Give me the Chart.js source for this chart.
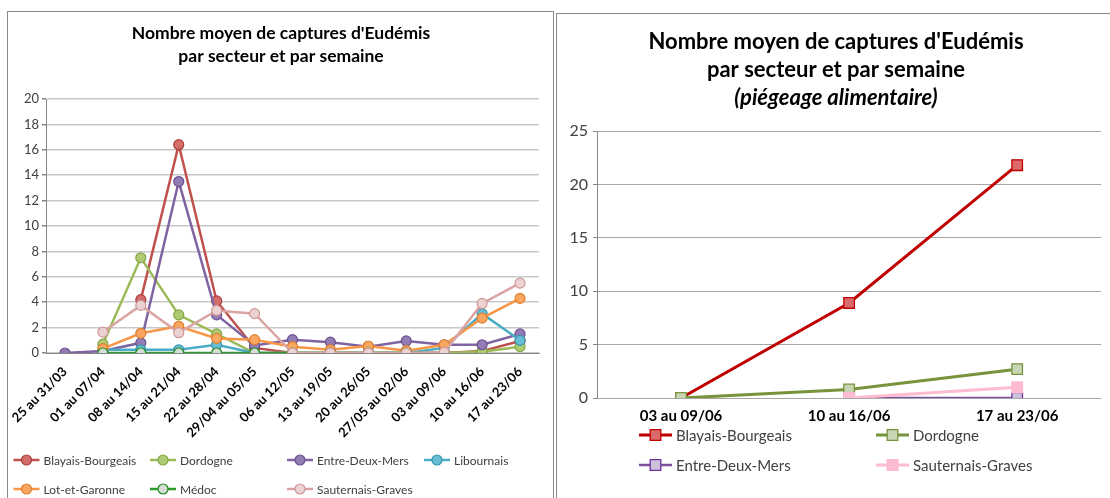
<!DOCTYPE html>
<html>
<head>
<meta charset="utf-8">
<script src="https://cdn.jsdelivr.net/npm/chart.js@4.4.1/dist/chart.umd.min.js"></script>
<style>
body { margin: 0; background: #fff; width: 1110px; height: 498px; overflow: hidden; position: relative; }
#p1 { position: absolute; left: 7px; top: 11px; width: 545px; height: 500px; border: 1px solid #8a8a8a; }
#p2 { position: absolute; left: 556px; top: 13px; width: 560px; height: 500px; border-top: 1px solid #8a8a8a; border-left: 1px solid #8a8a8a; }
canvas { position: absolute; left: 0; top: 0; }
</style>
</head>
<body>
<div id="p1"><canvas id="c1" width="545" height="486"></canvas></div>
<div id="p2"><canvas id="c2" width="553" height="484"></canvas></div>
<script>
// semaines, piégeage sexuel (graphique de gauche)
var weeks = ["25 au 31/03", "01 au 07/04", "08 au 14/04", "15 au 21/04", "22 au 28/04", "29/04 au 05/05",
  "06 au 12/05", "13 au 19/05", "20 au 26/05", "27/05 au 02/06", "03 au 09/06", "10 au 16/06", "17 au 23/06"];
var blayais = [null, null, 4.2, 16.4, 4.1, 0.4, 0, 0, 0, 0, 0, 0.15, 0.95];
var dordogne = [null, 0.7, 7.5, 3.0, 1.5, 0, 0, 0, 0, 0, 0, 0.1, 0.5];
var entreDeuxMers = [0, 0.15, 0.8, 13.5, 3.0, 0.6, 1.05, 0.85, 0.5, 0.95, 0.65, 0.65, 1.5];
var libournais = [null, 0.25, 0.25, 0.25, 0.65, 0, 0, 0, 0, 0, 0.4, 3.1, 1.0];
var lotEtGaronne = [null, 0.35, 1.55, 2.1, 1.15, 1.05, 0.5, 0.25, 0.55, 0.18, 0.65, 2.75, 4.3];
var medoc = [null, 0, 0, 0, 0, 0, 0, 0, 0, 0, 0, null, null];
var sauternais = [null, 1.65, 3.75, 1.6, 3.35, 3.1, 0, 0, 0, 0, 0.05, 3.9, 5.5];
var yTicksLeft = [0, 2, 4, 6, 8, 10, 12, 14, 16, 18, 20];

// piégeage alimentaire (graphique de droite)
var weeksAlim = ["03 au 09/06", "10 au 16/06", "17 au 23/06"];
var blayaisAlim = [0, 8.9, 21.8];
var dordogneAlim = [0, 0.8, 2.7];
var entreDeuxMersAlim = [null, 0, 0];
var sauternaisAlim = [null, 0, 1.0];
var yTicksRight = [0, 5, 10, 15, 20, 25];

Chart.defaults.font.family = "Lato, 'Open Sans', sans-serif";
Chart.defaults.color = "#404040";

// legende en grille facon Excel
var gridLegend = {
  id: "gridLegend",
  afterDraw(chart, args, opts) {
    var ctx = chart.ctx;
    var n = opts.cols.length;
    chart.data.datasets.forEach(function (ds, i) {
      var x = opts.cols[i % n], y = opts.rows[Math.floor(i / n)];
      ctx.save();
      ctx.strokeStyle = ds.borderColor;
      ctx.lineWidth = ds.borderWidth;
      ctx.beginPath();
      ctx.moveTo(x, y);
      ctx.lineTo(x + opts.lineLength, y);
      ctx.stroke();
      ctx.fillStyle = ds.pointBackgroundColor;
      ctx.strokeStyle = ds.pointBorderColor;
      ctx.lineWidth = ds.pointBorderWidth;
      Chart.helpers.drawPoint(ctx, { pointStyle: ds.pointStyle, radius: ds.pointRadius, borderWidth: ds.pointBorderWidth, rotation: 0 }, x + opts.lineLength / 2, y);
      ctx.fillStyle = "#404040";
      ctx.font = opts.font;
      ctx.textBaseline = "middle";
      ctx.fillText(ds.label, x + opts.lineLength + 4, y + 1);
      ctx.restore();
    });
  }
};

function serie(label, data, line, fill, border, i, n) {
  return {
    label: label, data: data, borderColor: line, borderWidth: 2.5,
    pointStyle: "circle", pointRadius: 5, pointBackgroundColor: fill,
    pointBorderColor: border, pointBorderWidth: 1.2, order: n - i, spanGaps: false
  };
}

var leftSets = [
  ["Blayais-Bourgeais", blayais, "#C0504D", "#D46C69", "#A8403D"],
  ["Dordogne", dordogne, "#9BBB59", "#ADCB72", "#87A648"],
  ["Entre-Deux-Mers", entreDeuxMers, "#8064A2", "#937BB3", "#6C5290"],
  ["Libournais", libournais, "#4BACC6", "#66BDD4", "#3A97B0"],
  ["Lot-et-Garonne", lotEtGaronne, "#F79646", "#F9A661", "#E0802F"],
  ["Médoc", medoc, "#2A9A2A", "#D4DED4", "#1E8A1E"],
  ["Sauternais-Graves", sauternais, "#DBA4A4", "#EDD2D2", "#CF9898"]
];

new Chart(document.getElementById("c1"), {
  type: "line",
  data: {
    labels: weeks,
    datasets: leftSets.map(function (s, i) { return serie(s[0], s[1], s[2], s[3], s[4], i, leftSets.length); })
  },
  options: {
    responsive: false,
    animation: false,
    layout: { padding: { left: 15, right: 14, top: 0, bottom: 0 } },
    plugins: {
      legend: { display: false },
      tooltip: { enabled: false },
      title: {
        display: true,
        text: ["Nombre moyen de captures d'Eudémis", "par secteur et par semaine"],
        color: "#000",
        font: { size: 17.5, weight: "bold", lineHeight: "23px" },
        padding: { top: 9.5, bottom: 31.5 }
      },
      gridLegend: { cols: [5.5, 142, 279, 416], rows: [448, 477], lineLength: 26, font: "12px Lato" }
    },
    scales: {
      x: {
        offset: true,
        grid: { display: false },
        border: { color: "#868686", width: 1 },
        ticks: { minRotation: 45, maxRotation: 45, padding: 3, color: "#000", font: { size: 13, weight: "bold" } },
        afterFit: function (s) { s.height = 145; }
      },
      y: {
        min: 0, max: 20,
        afterBuildTicks: function (s) { s.ticks = yTicksLeft.map(function (v) { return { value: v }; }); },
        grid: { color: "#C8C8C8", lineWidth: 1.5, tickLength: 4, tickColor: "#868686" },
        border: { color: "#868686", width: 1 },
        ticks: { padding: 3, color: "#404040", font: { size: 13 } },
        afterFit: function (s) { s.width = 23; }
      }
    }
  },
  plugins: [gridLegend]
});

var rightSets = [
  ["Blayais-Bourgeais", blayaisAlim, "#C00000", 3, "#DC6A6A", "#C00000", 7.5, 1.3],
  ["Dordogne", dordogneAlim, "#77933C", 3, "#C9D6B3", "#77933C", 7.5, 1.3],
  ["Entre-Deux-Mers", entreDeuxMersAlim, "#7F4F9F", 2.5, "#CDC2DC", "#7030A0", 7.5, 1.3],
  ["Sauternais-Graves", sauternaisAlim, "#FFBBD0", 3, "#FFBBD0", "#FFBBD0", 8.5, 0]
];

new Chart(document.getElementById("c2"), {
  type: "line",
  data: {
    labels: weeksAlim,
    datasets: rightSets.map(function (s, i) {
      return {
        label: s[0], data: s[1], borderColor: s[2], borderWidth: s[3],
        pointStyle: "rect", pointRadius: s[6], pointBackgroundColor: s[4],
        pointBorderColor: s[5], pointBorderWidth: s[7], order: rightSets.length - i
      };
    })
  },
  options: {
    responsive: false,
    animation: false,
    layout: { padding: { left: 10, right: 5, top: 0, bottom: 0 } },
    plugins: {
      legend: { display: false },
      tooltip: { enabled: false },
      title: {
        display: true,
        text: ["Nombre moyen de captures d'Eudémis", "par secteur et par semaine"],
        color: "#000",
        font: { size: 22, weight: "bold", lineHeight: "28px" },
        padding: { top: 14, bottom: 0 }
      },
      subtitle: {
        display: true,
        text: "(piégeage alimentaire)",
        color: "#000",
        font: { size: 22, weight: "bold", style: "italic", lineHeight: "28px" },
        padding: { top: 0, bottom: 19 }
      },
      gridLegend: { cols: [82, 319], rows: [421, 451], lineLength: 33, font: "15px Lato" }
    },
    scales: {
      x: {
        offset: true,
        grid: { display: false },
        border: { display: false },
        ticks: { maxRotation: 0, padding: 1, color: "#000", font: { size: 15, weight: "bold" } },
        afterFit: function (s) { s.height = 100; }
      },
      y: {
        min: 0, max: 25,
        afterBuildTicks: function (s) { s.ticks = yTicksRight.map(function (v) { return { value: v }; }); },
        grid: { color: "#A6A6A6", lineWidth: 1, tickLength: 4, tickColor: "#868686" },
        border: { color: "#868686", width: 1 },
        ticks: { padding: 5, color: "#404040", font: { size: 16 } },
        afterFit: function (s) { s.width = 30; }
      }
    }
  },
  plugins: [gridLegend]
});
</script>
</body>
</html>
